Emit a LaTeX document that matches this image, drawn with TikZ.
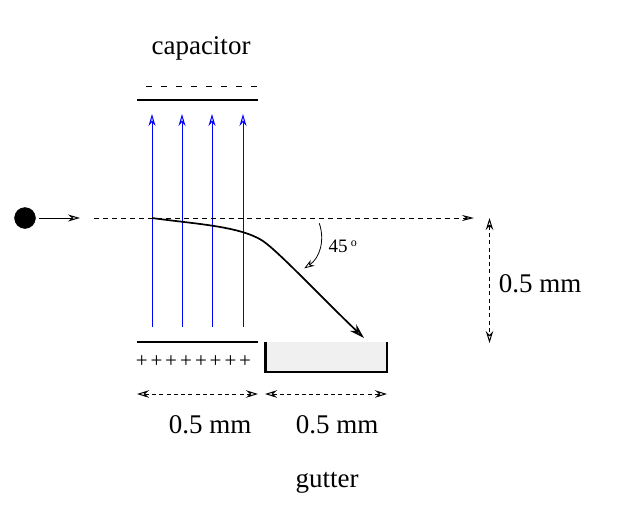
\documentclass[tikz,border=0pt]{standalone}
\usepackage{fontspec}
\setmainfont{Liberation Serif}
\usetikzlibrary{arrows.meta}
\tikzset{
    label text/.style={font=\fontsize{27}{29}\selectfont, anchor=base, inner sep=0pt},
    plate/.style={line width=2.2pt},
    tipline/.style={line width=1pt, -{Stealth[open, length=12pt, width=7pt]}},
    dimline/.style={line width=1pt, dash pattern=on 4pt off 3.3pt, {Stealth[open, length=12pt, width=7.5pt]}-{Stealth[open, length=12pt, width=7.5pt]}}
}
\begin{document}
\begin{tikzpicture}[x=1pt,y=-1pt]
    \useasboundingbox (0,0) rectangle (628,506);

    \node[label text] (capacitor) at (201,54) {capacitor};
    \coordinate (minusL) at (146,86);
    \coordinate (minusR) at (258,86);
    \draw[line width=0.9pt, dash pattern=on 5.5pt off 9.5pt] (minusL) -- (minusR);
    \coordinate (topL) at (137,100);
    \coordinate (topR) at (258,100);
    \draw[plate] (topL) -- (topR);
    \coordinate (botL) at (137,342);
    \coordinate (botR) at (258,342);
    \draw[plate] (botL) -- (botR);
    \foreach \i/\x in {1/141.7,2/156.5,3/171,4/186,5/201,6/215.5,7/230.5,8/245}
        \node[font=\fontsize{21}{24}\selectfont, inner sep=0pt] (plus\i) at (\x,361.5) {+};

    % field lines
    \foreach \i/\x in {1/152,2/182,3/212,4/243} {
        \coordinate (fieldB\i) at (\x,327);
        \coordinate (fieldT\i) at (\x,114);
        \draw[blue, tipline] (fieldB\i) -- (fieldT\i);
    }

    % particle and its path
    \filldraw[black] (25,218) circle (10.5pt);
    \coordinate (startA) at (39,218);
    \coordinate (startB) at (80,218);
    \draw[tipline] (startA) -- (startB);
    \coordinate (axisL) at (94,218);
    \coordinate (axisR) at (474,218);
    \draw[line width=1pt, dash pattern=on 5pt off 4pt, -{Stealth[open, length=12pt, width=6pt]}] (axisL) -- (axisR);
    \coordinate (pathA) at (152,218);
    \coordinate (pathB) at (364,338);
    \draw[line width=1.7pt, -{Stealth[open, length=15pt, width=9pt]}] (pathA) .. controls (195,224) and (240,226) .. (263,241) .. controls (280,253) and (320,296) .. (pathB);

    % gutter
    \coordinate (gutterA) at (265.5,342);
    \coordinate (gutterB) at (265.5,372);
    \coordinate (gutterC) at (386.8,372);
    \coordinate (gutterD) at (386.8,342);
    \fill[black!6] (gutterA) rectangle (gutterC);
    \draw[line width=2.2pt] (gutterA) -- (gutterB) -- (gutterC) -- (gutterD);

    % angle
    \coordinate (angleA) at (319.3,223.3);
    \coordinate (angleB) at (304.3,268.3);
    \draw[line width=0.8pt, -{Stealth[open, length=10pt, width=7pt]}] (angleA) .. controls (325,240) and (320,258) .. (angleB);
    \node[font=\fontsize{19}{20}\selectfont, anchor=base west, inner sep=0pt] (angle) at (328.5,252.7) {45\,\raisebox{6pt}{\fontsize{12}{12}\selectfont o}};

    % dimensions
    \coordinate (dimA) at (137,394);
    \coordinate (dimB) at (258,394);
    \coordinate (dimC) at (265,394);
    \coordinate (dimD) at (387,394);
    \coordinate (dimE) at (489.5,218);
    \coordinate (dimF) at (489.5,343);
    \draw[dimline] (dimA) -- (dimB);
    \draw[dimline] (dimC) -- (dimD);
    \draw[dimline] (dimE) -- (dimF);
    \node[label text] (widthA) at (210,433) {0.5 mm};
    \node[label text] (widthB) at (337,433) {0.5 mm};
    \node[label text] (height) at (540,292.7) {0.5 mm};
    \node[label text] (gutter) at (327,487) {gutter};
\end{tikzpicture}
\end{document}
